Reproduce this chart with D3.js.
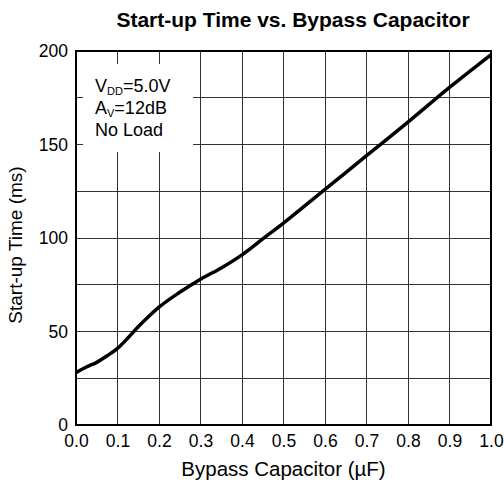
<!DOCTYPE html>
<html>
<head>
<meta charset="utf-8">
<script src="https://cdn.jsdelivr.net/npm/d3@7/dist/d3.min.js"></script>
<style>
  html, body { margin: 0; padding: 0; background: #fff; }
  svg { display: block; }
  text { font-family: "Liberation Sans", Arial, Helvetica, sans-serif; fill: #000; }
</style>
</head>
<body>
<svg id="chart" width="504" height="487"></svg>
<script>
// Start-up time (ms) against bypass capacitor (µF)
const capacitance = [0, 0.025, 0.05, 0.075, 0.1, 0.125, 0.15, 0.175, 0.2, 0.25, 0.3, 0.35, 0.4, 0.45, 0.5, 0.6, 0.7, 0.8, 0.9, 1.0];
const startupTime = [28, 31, 33.5, 37, 41, 46.5, 52.5, 58, 63, 71, 78, 84, 91, 99.5, 108, 126, 144, 162, 180.5, 198];
const xTicks = [0, 0.1, 0.2, 0.3, 0.4, 0.5, 0.6, 0.7, 0.8, 0.9, 1.0];
const yTicks = [0, 50, 100, 150, 200];
const yGrid = [25, 50, 75, 100, 125, 150, 175];
const conditions = [
  { main: "V", sub: "DD", rest: "=5.0V" },
  { main: "A", sub: "V", rest: "=12dB" },
  { main: "No Load", sub: "", rest: "" }
];

const svg = d3.select("#chart");
const plotL = 76, plotR = 491, plotT = 51, plotB = 425;

const x = d3.scaleLinear().domain([0, 1]).range([plotL, plotR]);
const y = d3.scaleLinear().domain([0, 200]).range([plotB, plotT]);

// grid
const grid = svg.append("g").attr("stroke", "#333").attr("stroke-width", 1).attr("shape-rendering", "crispEdges");
grid.selectAll("line.v").data(xTicks.slice(1, -1)).join("line")
  .attr("class", "v")
  .attr("x1", d => x(d)).attr("x2", d => x(d))
  .attr("y1", plotT).attr("y2", plotB);
grid.selectAll("line.h").data(yGrid).join("line")
  .attr("class", "h")
  .attr("x1", plotL).attr("x2", plotR)
  .attr("y1", d => y(d)).attr("y2", d => y(d));

// white panel behind the test conditions
svg.append("rect")
  .attr("x", x(0.017)).attr("y", y(193))
  .attr("width", x(0.282) - x(0.017)).attr("height", y(146) - y(193))
  .attr("fill", "#fff");

// frame
svg.append("rect")
  .attr("x", plotL).attr("y", plotT)
  .attr("width", plotR - plotL).attr("height", plotB - plotT)
  .attr("fill", "none").attr("stroke", "#000").attr("stroke-width", 2);

// axis labels
const xAxis = d3.axisBottom(x).tickValues(xTicks).tickFormat(d3.format(".1f")).tickSize(0).tickPadding(10);
const gx = svg.append("g").attr("transform", `translate(0,${plotB})`).call(xAxis);
gx.select(".domain").remove();
gx.selectAll("text").attr("font-size", 17.5).attr("font-family", "Liberation Sans, Arial, sans-serif").attr("fill", "#000");

const yAxis = d3.axisLeft(y).tickValues(yTicks).tickSize(0).tickPadding(8);
const gy = svg.append("g").attr("transform", `translate(${plotL},0)`).call(yAxis);
gy.select(".domain").remove();
gy.selectAll("text").attr("font-size", 17.5).attr("font-family", "Liberation Sans, Arial, sans-serif").attr("fill", "#000");

// curve
const line = d3.line()
  .x((d, i) => x(capacitance[i]))
  .y(d => y(d))
  .curve(d3.curveMonotoneX);
svg.append("path")
  .datum(startupTime)
  .attr("d", line)
  .attr("fill", "none")
  .attr("stroke", "#000")
  .attr("stroke-width", 3.5)
  .attr("stroke-linejoin", "round");

// condition text
const cond = svg.append("g");
conditions.forEach((c, i) => {
  const t = cond.append("text")
    .attr("x", 95).attr("y", 92 + i * 22)
    .attr("font-size", 18);
  t.append("tspan").text(c.main);
  if (c.sub) {
    t.append("tspan").attr("font-size", 11).attr("dy", 3).text(c.sub);
    t.append("tspan").attr("dy", -3).text(c.rest);
  }
});

// titles
svg.append("text")
  .attr("x", 293).attr("y", 27)
  .attr("text-anchor", "middle")
  .attr("font-size", 21).attr("font-weight", "bold")
  .text("Start-up Time vs. Bypass Capacitor");

svg.append("text")
  .attr("x", (plotL + plotR) / 2).attr("y", 476)
  .attr("text-anchor", "middle")
  .attr("font-size", 20.5)
  .text("Bypass Capacitor (µF)");

svg.append("text")
  .attr("transform", `translate(22,245) rotate(-90)`)
  .attr("text-anchor", "middle")
  .attr("font-size", 19)
  .text("Start-up Time (ms)");
</script>
</body>
</html>
